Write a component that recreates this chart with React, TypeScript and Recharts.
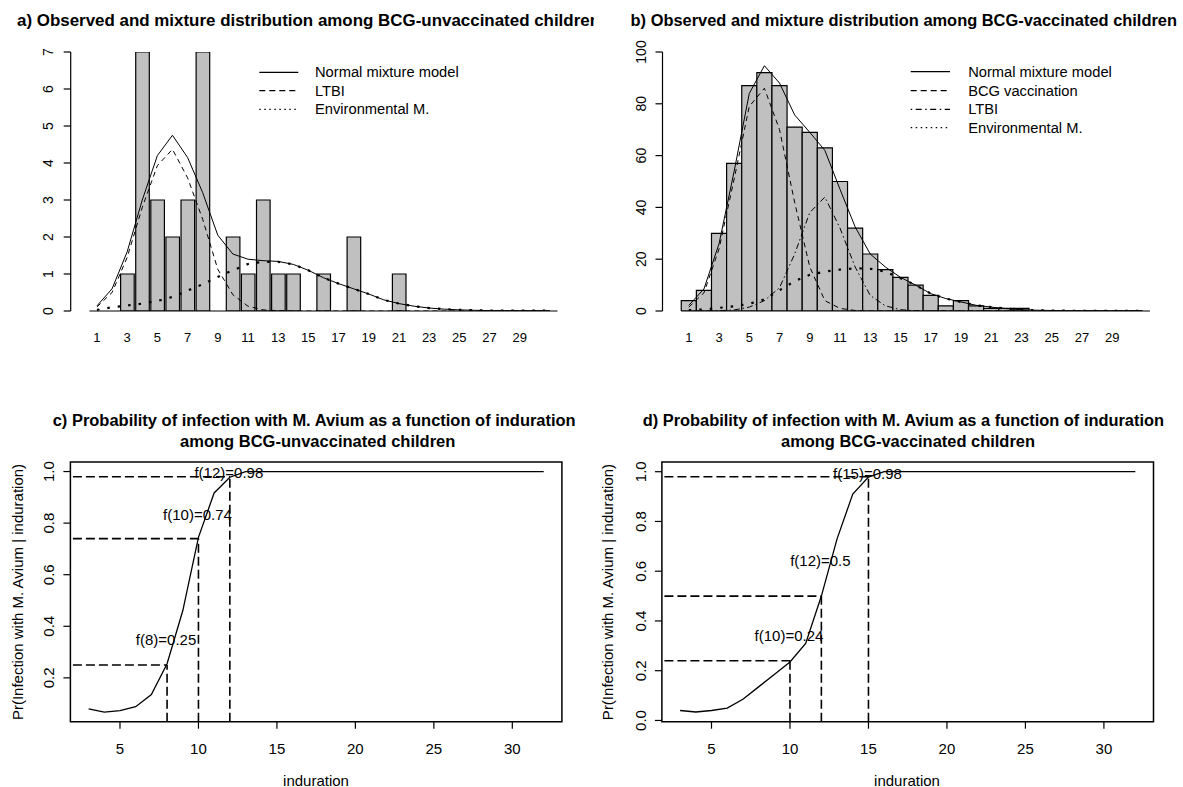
import React from 'react'
import {
  Bar,
  ComposedChart,
  Line,
  LineChart,
  ReferenceArea,
  ReferenceDot,
  ReferenceLine,
  XAxis,
  YAxis
} from 'recharts'

const W = 1183
const H = 787

// induration bins (mm) shared by both histograms
const bins = [1, 2, 3, 4, 5, 6, 7, 8, 9, 10, 11, 12, 13, 14, 15, 16, 17, 18, 19, 20, 21, 22, 23, 24, 25, 26, 27, 28, 29, 30, 31]
const binTicks = [1, 3, 5, 7, 9, 11, 13, 15, 17, 19, 21, 23, 25, 27, 29]

// a) BCG-unvaccinated
const aObserved = [0, 0, 1, 7, 3, 2, 3, 7, 0, 2, 1, 3, 1, 1, 0, 1, 0, 2, 0, 0, 1, 0, 0, 0, 0, 0, 0, 0, 0, 0, 0]
const aMixture = [0.14, 0.6, 1.6, 3.0, 4.2, 4.75, 4.15, 3.2, 2.05, 1.54, 1.4, 1.36, 1.34, 1.26, 1.1, 0.9, 0.74, 0.6, 0.46, 0.3, 0.2, 0.13, 0.08, 0.05, 0.03, 0.02, 0.01, 0.01, 0.01, 0.01, 0.01]
const aLtbi = [0.11, 0.5, 1.45, 2.8, 3.93, 4.37, 3.6, 2.48, 1.13, 0.44, 0.13, 0.03, 0.01, 0, 0, 0, 0, 0, 0, 0, 0, 0, 0, 0, 0, 0, 0, 0, 0, 0, 0]
const aEnv = [0.03, 0.1, 0.15, 0.2, 0.27, 0.38, 0.55, 0.72, 0.92, 1.1, 1.27, 1.33, 1.33, 1.26, 1.1, 0.9, 0.74, 0.6, 0.46, 0.3, 0.2, 0.13, 0.08, 0.05, 0.03, 0.02, 0.01, 0.01, 0.01, 0.01, 0.01]

// b) BCG-vaccinated
const bObserved = [4, 8, 30, 57, 87, 92, 87, 71, 69, 63, 50, 32, 22, 16, 13, 10, 6, 2, 4, 2, 1, 1, 1, 0, 0, 0, 0, 0, 0, 0, 0]
const bMixture = [2.2, 8.5, 26, 54, 84, 94.7, 88, 75.7, 69, 62, 47, 32.5, 22, 17, 13, 10, 6.7, 4.8, 3.5, 2.2, 1.5, 0.9, 0.5, 0.3, 0.2, 0.1, 0.1, 0.1, 0.1, 0.1, 0.1]
const bBcg = [1.5, 7, 24, 51, 79, 86, 70, 42, 17, 4, 1, 0.2, 0, 0, 0, 0, 0, 0, 0, 0, 0, 0, 0, 0, 0, 0, 0, 0, 0, 0, 0]
const bLtbi = [0, 0, 0.1, 0.4, 1.5, 4, 9, 22, 38, 44, 32, 17, 6, 2, 0.5, 0.1, 0, 0, 0, 0, 0, 0, 0, 0, 0, 0, 0, 0, 0, 0, 0]
const bEnv = [0.3, 0.6, 1.2, 1.8, 2.8, 4.5, 8, 11.5, 14, 15.2, 16, 16.5, 16.3, 15.2, 12.6, 10, 6.7, 4.8, 3.5, 2.2, 1.5, 0.9, 0.5, 0.3, 0.2, 0.1, 0.1, 0.1, 0.1, 0.1, 0.1]

const aYTicks = [0, 1, 2, 3, 4, 5, 6, 7]
const bYTicks = [0, 20, 40, 60, 80, 100]

// c) / d) probability of M. avium infection by induration
const induration = [3, 4, 5, 6, 7, 8, 9, 10, 11, 12, 13, 14, 15, 16, 17, 18, 19, 20, 21, 22, 23, 24, 25, 26, 27, 28, 29, 30, 31, 32]
const cProb = [0.08, 0.067, 0.073, 0.088, 0.135, 0.255, 0.46, 0.745, 0.917, 0.978, 1, 1, 1, 1, 1, 1, 1, 1, 1, 1, 1, 1, 1, 1, 1, 1, 1, 1, 1, 1]
const dProb = [0.04, 0.034, 0.04, 0.05, 0.085, 0.135, 0.185, 0.235, 0.31, 0.5, 0.73, 0.91, 0.978, 1, 1, 1, 1, 1, 1, 1, 1, 1, 1, 1, 1, 1, 1, 1, 1, 1]
const cMarks = [{ x: 8, y: 0.25 }, { x: 10, y: 0.74 }, { x: 12, y: 0.98 }]
const dMarks = [{ x: 10, y: 0.24 }, { x: 12, y: 0.5 }, { x: 15, y: 0.98 }]
const probXTicks = [5, 10, 15, 20, 25, 30]
const cYTicks = [0.2, 0.4, 0.6, 0.8, 1.0]
const dYTicks = [0, 0.2, 0.4, 0.6, 0.8, 1.0]

const aRows = bins.map((x, i) => ({ x, observed: aObserved[i], mixture: aMixture[i], ltbi: aLtbi[i], env: aEnv[i] }))
const bRows = bins.map((x, i) => ({ x, observed: bObserved[i], mixture: bMixture[i], bcg: bBcg[i], ltbi: bLtbi[i], env: bEnv[i] }))
const cRows = induration.map((x, i) => ({ x, p: cProb[i] }))
const dRows = induration.map((x, i) => ({ x, p: dProb[i] }))

const FONT = "'Liberation Sans', Arial, sans-serif"
const TITLE_FONT = "'Liberation Sans Narrow', 'Liberation Sans', Arial, sans-serif"

const DASH = '5 4'
const DOT_THICK = '2.5 8'
const DASHDOT = '1.5 3 6 3'

const rotTick = (cx: number, size: number, fmt: (v: number) => string) => (p: any) => (
  <text
    x={cx}
    y={p.y}
    transform={`rotate(-90 ${cx} ${p.y})`}
    textAnchor='middle'
    dominantBaseline='central'
    fontFamily={FONT}
    fontSize={size}
    fill='#000'
  >
    {fmt(p.payload.value)}
  </text>
)

const bottomTick = (ty: number, size: number) => (p: any) => (
  <text x={p.x} y={ty} textAnchor='middle' dominantBaseline='central' fontFamily={FONT} fontSize={size} fill='#000'>
    {p.payload.value}
  </text>
)

const abs: React.CSSProperties = { position: 'absolute', left: 0, top: 0 }

function Histogram({ rows, left, right, yMax, yTicks, tickX, children }: any) {
  return (
    <div style={abs}>
      <ComposedChart
        width={W}
        height={H}
        data={rows}
        margin={{ top: 52, right: W - right, bottom: H - 311 - 30, left: left - 40 }}
      >
        <XAxis
          dataKey='x'
          type='number'
          domain={[-0.74, 32.74]}
          ticks={binTicks}
          allowDataOverflow
          height={30}
          axisLine={false}
          tickLine={false}
          tick={bottomTick(337, 13)}
          interval={0}
        />
        <YAxis
          type='number'
          domain={[0, yMax]}
          ticks={yTicks}
          allowDataOverflow
          width={40}
          axisLine={{ stroke: '#000', strokeWidth: 1.2 }}
          tickLine={{ stroke: '#000', strokeWidth: 1.2 }}
          tickSize={7}
          tick={rotTick(tickX, 14, (v) => String(v))}
          interval={0}
        />
        <Bar dataKey='observed' fill='#c0c0c0' stroke='#000' strokeWidth={1.2} barSize={15.1} isAnimationActive={false} />
        <ReferenceLine
          segment={[{ x: bins[0] - 0.5, y: 0 }, { x: bins[bins.length - 1] + 0.5, y: 0 }]}
          stroke='#000'
          strokeWidth={1.2}
        />
        {children}
      </ComposedChart>
    </div>
  )
}

function ProbPanel({ rows, marks, left, right, yDomain, yTicks, tickX, labelDy }: any) {
  const [y0, y1] = yDomain
  return (
    <div style={abs}>
      <LineChart
        width={W}
        height={H}
        data={rows}
        margin={{ top: 462, right: W - right, bottom: H - 721.7 - 30, left: left - 40 }}
      >
        <XAxis
          dataKey='x'
          type='number'
          domain={[1.84, 33.16]}
          ticks={probXTicks}
          allowDataOverflow
          height={30}
          axisLine={false}
          tickLine={{ stroke: '#000', strokeWidth: 1.2 }}
          tickSize={7}
          tick={bottomTick(748, 15)}
          interval={0}
        />
        <YAxis
          type='number'
          domain={yDomain}
          ticks={yTicks}
          allowDataOverflow
          width={40}
          axisLine={false}
          tickLine={{ stroke: '#000', strokeWidth: 1.2 }}
          tickSize={7}
          tick={rotTick(tickX, 15, (v) => v.toFixed(1))}
          interval={0}
        />
        <ReferenceArea x1={1.84} x2={33.16} y1={y0} y2={y1} fill='none' fillOpacity={0} stroke='#000' strokeWidth={1.5} ifOverflow='visible' />
        {marks.map((m: any, i: number) => (
          <ReferenceLine
            key={'h' + i}
            segment={[{ x: 2, y: m.y }, { x: m.x, y: m.y }]}
            stroke='#000'
            strokeWidth={1.6}
            strokeDasharray='9 4'
          />
        ))}
        {marks.map((m: any, i: number) => (
          <ReferenceLine
            key={'v' + i}
            segment={[{ x: m.x, y: y0 }, { x: m.x, y: m.y }]}
            stroke='#000'
            strokeWidth={1.6}
            strokeDasharray='9 4'
          />
        ))}
        <Line type='linear' dataKey='p' stroke='#000' strokeWidth={1.3} dot={false} isAnimationActive={false} />
        {marks.map((m: any, i: number) => (
          <ReferenceDot
            key={'t' + i}
            x={m.x}
            y={m.y}
            r={2}
            ifOverflow='visible'
            shape={(p: any) => (
              <text
                x={p.cx - 1}
                y={p.cy + labelDy[i]}
                textAnchor='middle'
                dominantBaseline='central'
                fontFamily={FONT}
                fontSize={15}
                fill='#000'
              >
                {`f(${m.x})=${m.y}`}
              </text>
            )}
          />
        ))}
      </LineChart>
    </div>
  )
}

const aLegend = [
  { name: 'Normal mixture model', dash: undefined },
  { name: 'LTBI', dash: '6 4' },
  { name: 'Environmental M.', dash: '1.5 3.5' }
]
const bLegend = [
  { name: 'Normal mixture model', dash: undefined },
  { name: 'BCG vaccination', dash: '6 4' },
  { name: 'LTBI', dash: '1.5 3.5 6 3.5' },
  { name: 'Environmental M.', dash: '1.5 3.5' }
]

function LegendBox({ items, x1, x2, tx, ys }: any) {
  return (
    <g>
      {items.map((it: any, i: number) => (
        <g key={it.name}>
          <line x1={x1} x2={x2} y1={ys[i]} y2={ys[i]} stroke='#000' strokeWidth={1.2} strokeDasharray={it.dash} />
          <text x={tx} y={ys[i]} dominantBaseline='central' fontFamily={FONT} fontSize={14.7} fill='#000'>
            {it.name}
          </text>
        </g>
      ))}
    </g>
  )
}

const titleStyle = { fontFamily: TITLE_FONT, fontWeight: 'bold' as const, fontSize: 15.6, fill: '#000' }

export default function App() {
  return (
    <div style={{ position: 'absolute', left: 0, top: 0, width: W, height: H, background: '#fff', overflow: 'hidden' }}>
      <Histogram rows={aRows} left={70.7} right={576.2} yMax={7} yTicks={aYTicks} tickX={48}>
        <Line type='linear' dataKey='env' stroke='#000' strokeWidth={2.2} strokeDasharray={DOT_THICK} dot={false} isAnimationActive={false} />
        <Line type='linear' dataKey='ltbi' stroke='#000' strokeWidth={1} strokeDasharray={DASH} dot={false} isAnimationActive={false} />
        <Line type='linear' dataKey='mixture' stroke='#000' strokeWidth={1} dot={false} isAnimationActive={false} />
      </Histogram>

      <Histogram rows={bRows} left={662.5} right={1168.7} yMax={100} yTicks={bYTicks} tickX={641}>
        <Line type='linear' dataKey='env' stroke='#000' strokeWidth={2.2} strokeDasharray={DOT_THICK} dot={false} isAnimationActive={false} />
        <Line type='linear' dataKey='ltbi' stroke='#000' strokeWidth={1} strokeDasharray={DASHDOT} dot={false} isAnimationActive={false} />
        <Line type='linear' dataKey='bcg' stroke='#000' strokeWidth={1} strokeDasharray={DASH} dot={false} isAnimationActive={false} />
        <Line type='linear' dataKey='mixture' stroke='#000' strokeWidth={1} dot={false} isAnimationActive={false} />
      </Histogram>

      <ProbPanel rows={cRows} marks={cMarks} left={70.4} right={561.9} yDomain={[0.03, 1.037]} yTicks={cYTicks} tickX={49} labelDy={[-25, -24, -4]} />
      <ProbPanel rows={dRows} marks={dMarks} left={661.9} right={1153.5} yDomain={[-0.005, 1.039]} yTicks={dYTicks} tickX={641} labelDy={[-25, -36, -3]} />

      <svg width={W} height={H} style={{ ...abs, pointerEvents: 'none' }}>
        <defs>
          <clipPath id='clipA'>
            <rect x={0} y={0} width={594} height={60} />
          </clipPath>
        </defs>
        <text x={17} y={20} dominantBaseline='central' textLength={583} lengthAdjust='spacingAndGlyphs' clipPath='url(#clipA)' {...titleStyle}>
          a) Observed and mixture distribution among BCG-unvaccinated children
        </text>
        <text x={630.6} y={20} dominantBaseline='central' textLength={546.4} lengthAdjust='spacingAndGlyphs' {...titleStyle}>
          b) Observed and mixture distribution among BCG-vaccinated children
        </text>
        <text x={52.7} y={420} dominantBaseline='central' textLength={523} lengthAdjust='spacingAndGlyphs' {...titleStyle}>
          c) Probability of infection with M. Avium as a function of induration
        </text>
        <text x={180} y={441.7} dominantBaseline='central' textLength={275.4} lengthAdjust='spacingAndGlyphs' {...titleStyle}>
          among BCG-unvaccinated children
        </text>
        <text x={642.7} y={420} dominantBaseline='central' textLength={521.3} lengthAdjust='spacingAndGlyphs' {...titleStyle}>
          d) Probability of infection with M. Avium as a function of induration
        </text>
        <text x={781} y={441.7} dominantBaseline='central' textLength={254} lengthAdjust='spacingAndGlyphs' {...titleStyle}>
          among BCG-vaccinated children
        </text>

        <LegendBox items={aLegend} x1={259.3} x2={298.3} tx={315} ys={[72.3, 90.7, 109.3]} />
        <LegendBox items={bLegend} x1={910.7} x2={950} tx={968.2} ys={[71.7, 90.7, 109.3, 127.7]} />

        <text x={17} y={592} transform='rotate(-90 17 592)' textAnchor='middle' dominantBaseline='central' fontFamily={FONT} fontSize={15} fill='#000'>
          Pr(Infection with M. Avium | induration)
        </text>
        <text x={607} y={592} transform='rotate(-90 607 592)' textAnchor='middle' dominantBaseline='central' fontFamily={FONT} fontSize={15} fill='#000'>
          Pr(Infection with M. Avium | induration)
        </text>
        <text x={316} y={780} textAnchor='middle' dominantBaseline='central' fontFamily={FONT} fontSize={15} fill='#000'>
          induration
        </text>
        <text x={907} y={780} textAnchor='middle' dominantBaseline='central' fontFamily={FONT} fontSize={15} fill='#000'>
          induration
        </text>
      </svg>
    </div>
  )
}
